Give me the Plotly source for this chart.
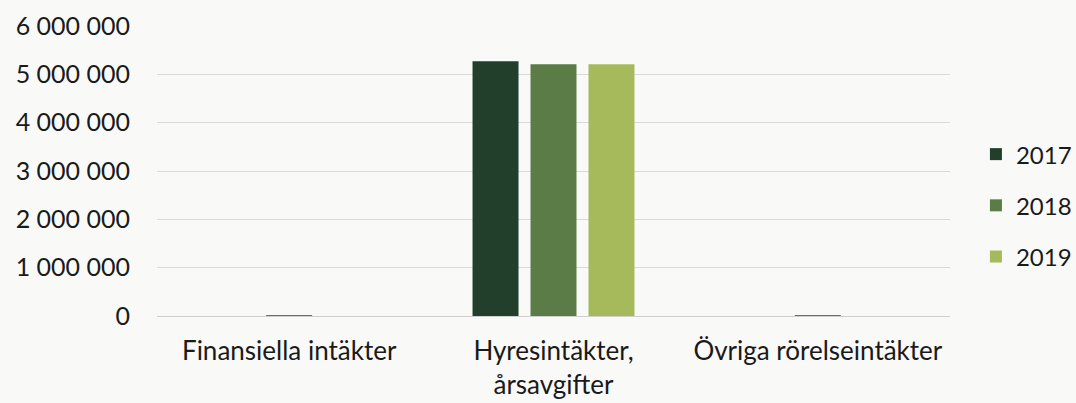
import plotly.graph_objects as go

categories = ["Finansiella intäkter", "Hyresintäkter,<br>årsavgifter", "Övriga rörelseintäkter"]
years = ["2017", "2018", "2019"]
values_2017 = [0, 5270000, 0]
values_2018 = [15000, 5210000, 15000]
values_2019 = [0, 5210000, 0]
colors = ["#213f2b", "#5b7b47", "#a6ba5b"]

series = [values_2017, values_2018, values_2019]

fig = go.Figure()
for year, vals, col in zip(years, series, colors):
    fig.add_trace(go.Bar(name=year, x=categories, y=vals, marker_color=col,
                         marker_line_width=0, legendgroup=year))

font_family = "Lato, 'Open Sans', sans-serif"
fig.update_layout(
    width=1076, height=403,
    margin=dict(l=157, r=126, t=26, b=87, autoexpand=False),
    paper_bgcolor="#f9f9f8", plot_bgcolor="#f9f9f8",
    barmode="group", bargap=0.342, bargroupgap=0.207,
    separators=", ",
    font=dict(family=font_family, size=25, color="#1a1a1a"),
    showlegend=True,
    legend=dict(xref="container", yref="container", x=0.907, y=0.49,
                xanchor="left", yanchor="middle",
                font=dict(size=24), bgcolor="rgba(0,0,0,0)",
                traceorder="grouped", tracegroupgap=17, itemwidth=30),
    xaxis=dict(showgrid=False, showline=False, ticks="", ticklabelstandoff=17,
               tickfont=dict(size=26)),
    yaxis=dict(range=[0, 6000000], dtick=1000000, tickformat=",d",
               showgrid=True, gridcolor="#d9d9d9", gridwidth=1,
               zeroline=True, zerolinecolor="#cfcfcf", zerolinewidth=1,
               ticks="", ticklabelstandoff=26, tickfont=dict(size=25)),
)

fig.write_html("out.html")
